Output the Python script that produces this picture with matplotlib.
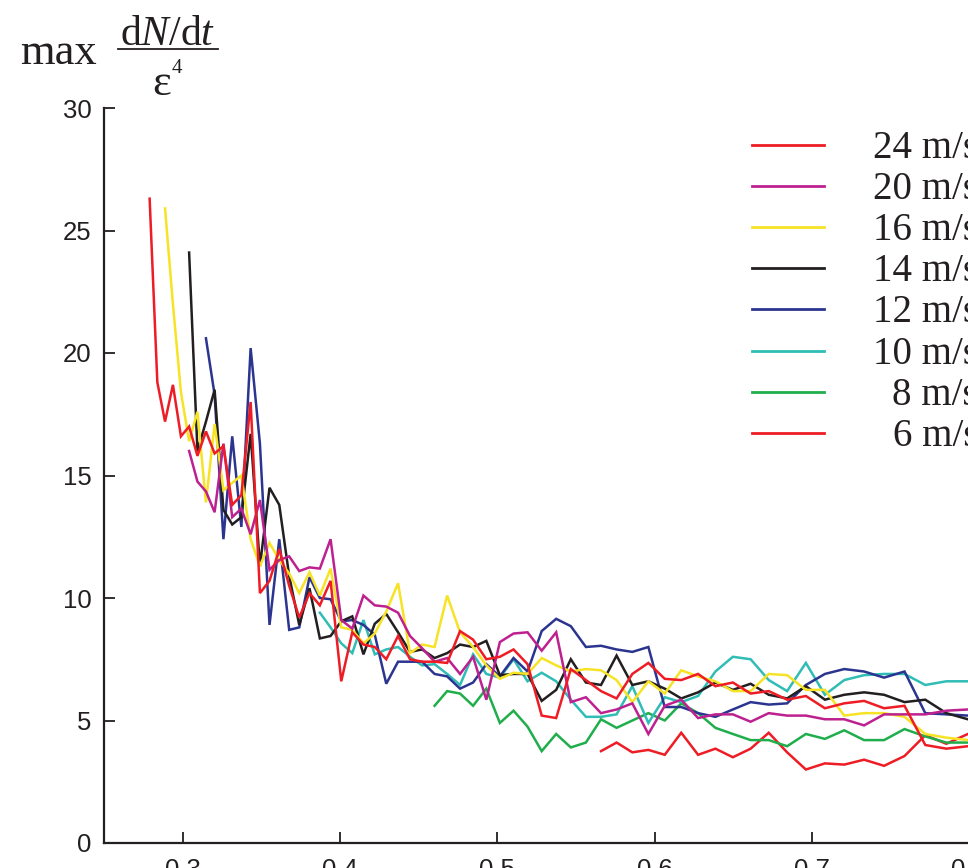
import matplotlib.pyplot as plt
from matplotlib.lines import Line2D

# x positions of the samples (shared by all runs)
x_grid = [0.2790, 0.2839, 0.2888, 0.2938, 0.2989, 0.3041, 0.3094, 0.3148, 0.3203, 0.3259,
          0.3315, 0.3373, 0.3432, 0.3491, 0.3552, 0.3614, 0.3677, 0.3741, 0.3806, 0.3872,
          0.3940, 0.4008, 0.4078, 0.4149, 0.4221, 0.4294, 0.4369, 0.4445, 0.4522, 0.4601,
          0.4681, 0.4763, 0.4846, 0.4930, 0.5016, 0.5103, 0.5192, 0.5282, 0.5374, 0.5467,
          0.5563, 0.5659, 0.5758, 0.5858, 0.5960, 0.6064, 0.6169, 0.6276, 0.6386, 0.6497,
          0.6610, 0.6725, 0.6842, 0.6961, 0.7082, 0.7205, 0.7331, 0.7458, 0.7588, 0.7720,
          0.7854, 0.7991]

# max dN/dt / eps^4 for each wind speed, and index into x_grid where each run starts
u24 = [26.3, 18.8, 17.2, 18.7, 16.6, 17.0, 15.8, 16.8, 15.9, 16.2,
       13.8, 14.2, 18.0, 10.2, 10.7, 12.0, 10.5, 9.2, 10.2, 9.7,
       10.7, 6.6, 8.6, 8.1, 8.0, 7.5, 8.45, 7.5, 7.4, 7.4,
       7.35, 8.65, 8.3, 7.5, 7.6, 7.9, 7.3, 5.2, 5.1, 7.1,
       6.65, 6.2, 5.9, 6.9, 7.35, 6.7, 6.65, 6.9, 6.4, 6.55,
       6.1, 6.2, 5.85, 6.0, 5.5, 5.7, 5.8, 5.5, 5.6, 4.0,
       3.85, 3.95]
u20 = [16.0, 14.75, 14.35, 13.5, 16.3, 13.3, 13.65, 12.6, 14.0, 11.15,
       11.55, 11.7, 11.1, 11.25, 11.2, 12.4, 9.1, 8.75, 10.1, 9.7,
       9.65, 9.4, 8.45, 7.95, 7.4, 7.55, 6.9, 7.6, 5.85, 8.2,
       8.55, 8.6, 7.85, 8.6, 5.75, 5.95, 5.3, 5.45, 5.7, 4.45,
       5.6, 5.85, 5.1, 5.25, 5.25, 4.95, 5.3, 5.2, 5.2, 5.05,
       5.05, 4.8, 5.25, 5.25, 5.25, 5.4, 5.45]
u16 = [25.9, 22.0, 18.4, 16.4, 17.6, 13.9, 17.1, 14.4, 14.7, 15.0,
       12.4, 11.3, 12.25, 11.55, 11.0, 10.2, 11.05, 10.1, 11.2, 8.8,
       8.7, 8.15, 8.55, 9.45, 10.6, 7.75, 8.1, 8.0, 10.1, 8.6,
       8.0, 7.25, 6.7, 6.95, 6.9, 7.55, 7.25, 7.0, 7.1, 7.05,
       6.65, 5.75, 6.6, 6.1, 7.05, 6.8, 6.6, 6.2, 6.2, 6.9,
       6.85, 6.25, 6.25, 5.2, 5.3, 5.3, 5.15, 4.45, 4.3, 4.2]
u14 = [24.1, 16.0, 17.2, 18.5, 13.6, 13.0, 13.3, 16.7, 11.3, 14.5,
       13.8, 10.9, 8.9, 10.4, 8.35, 8.45, 9.05, 9.25, 7.7, 8.95,
       9.35, 8.6, 7.8, 7.9, 7.55, 7.75, 8.1, 8.0, 8.25, 6.85,
       6.9, 6.9, 5.8, 6.25, 7.5, 6.55, 6.45, 7.65, 6.45, 6.6,
       6.3, 5.9, 6.15, 6.55, 6.25, 6.5, 6.05, 5.9, 6.4, 5.85,
       6.05, 6.15, 6.05, 5.75, 5.85, 5.3, 5.05]
u12 = [20.6, 18.3, 12.4, 16.6, 12.9, 20.2, 16.3, 8.9, 12.4, 8.7,
       8.8, 10.85, 10.0, 9.95, 9.05, 9.1, 8.9, 8.5, 6.5, 7.4,
       7.4, 7.4, 6.9, 6.8, 6.3, 6.55, 7.3, 6.8, 7.55, 7.0,
       8.65, 9.15, 8.85, 8.0, 8.05, 7.9, 7.8, 8.0, 5.55, 5.55,
       5.3, 5.15, 5.45, 5.75, 5.65, 5.7, 6.45, 6.9, 7.1, 7.0,
       6.75, 7.0, 5.3, 5.25, 5.2]
u10 = [9.4, 8.8, 8.15, 7.75, 9.1, 7.7, 7.9, 8.0, 7.6, 7.25,
       7.3, 6.9, 6.45, 7.7, 6.9, 6.75, 7.5, 6.6, 6.95, 6.6,
       5.85, 5.15, 5.15, 5.25, 6.4, 4.9, 5.95, 5.75, 6.0, 7.0,
       7.6, 7.5, 6.65, 6.2, 7.35, 6.05, 6.65, 6.85, 6.9, 6.9,
       6.45, 6.6, 6.6]
u8 = [5.6, 6.2, 6.1, 5.6, 6.3, 4.9, 5.4, 4.75, 3.75, 4.45,
      3.9, 4.1, 5.05, 4.7, 5.0, 5.3, 5.0, 5.7, 5.3, 4.7,
      4.45, 4.2, 4.2, 3.95, 4.45, 4.25, 4.6, 4.2, 4.2, 4.65,
      4.35, 4.1, 4.1]
u6 = [3.75, 4.1, 3.7, 3.8, 3.6, 4.5, 3.6, 3.85, 3.5, 3.85,
      4.5, 3.7, 3.0, 3.25, 3.2, 3.4, 3.15, 3.55, 4.4, 4.05,
      4.45]

labels = ["24 m/s", "20 m/s", "16 m/s", "14 m/s", "12 m/s", "10 m/s", "8 m/s", "6 m/s"]
series = [u24, u20, u16, u14, u12, u10, u8, u6]
starts = [0, 5, 2, 5, 7, 19, 29, 41]
colors = ["#ee1c25", "#bd2190", "#f7e325", "#231f20", "#2b3590", "#2fbdb5", "#1fae4b", "#ee1c25"]

xticks = [0.3, 0.4, 0.5, 0.6, 0.7, 0.8]
yticks = [0, 5, 10, 15, 20, 25, 30]

plt.rcParams["font.family"] = "Liberation Sans"
plt.rcParams["mathtext.fontset"] = "custom"
plt.rcParams["mathtext.rm"] = "Liberation Serif"
plt.rcParams["mathtext.it"] = "Liberation Serif:italic"

W, H = 968, 868


def fx(px):
    return px / W


def fy(py):
    return 1 - py / H


fig = plt.figure(figsize=(W / 100, H / 100), dpi=100)
# axes run past the right edge of the figure, like the cropped original
ax = fig.add_axes([fx(104), fy(843), 944 / W, 735 / H])

# draw smallest wind speed first so the 24 m/s run sits on top
for ys, s, c in reversed(list(zip(series, starts, colors))):
    ax.plot(x_grid[s:s + len(ys)], ys, color=c, lw=1.8, solid_joinstyle="miter")

ax.set_xlim(0.25, 0.85)
ax.set_ylim(0, 30)
ax.set_xticks(xticks)
ax.set_xticklabels([f"{v:.1f}" for v in xticks])
ax.set_yticks(yticks)
for side in ["top", "right"]:
    ax.spines[side].set_visible(False)
for side in ["left", "bottom"]:
    ax.spines[side].set_linewidth(1.6)
    ax.spines[side].set_color("#231f20")
ax.tick_params(direction="in", length=8, width=1.3, color="#231f20",
               labelsize=18.5, labelcolor="#231f20")
ax.tick_params(axis="y", pad=9)
ax.tick_params(axis="x", pad=11)

# legend by hand: right-aligned labels, cut by the figure edge
for i, (lab, c) in enumerate(zip(labels, colors)):
    y = 145 + 41.1 * i
    fig.add_artist(Line2D([fx(752), fx(824)], [fy(y), fy(y)], color=c, lw=2.0))
    fig.text(fx(978), fy(y + 13), lab, ha="right", va="baseline",
             family="Liberation Serif", fontsize=28, color="#231f20")

# y label: max dN/dt over eps^4
fig.text(fx(20), fy(64), "max", family="Liberation Serif", fontsize=32,
         va="baseline", color="#231f20")
fig.text(fx(168), fy(45), r"$\mathrm{d}N/\mathrm{d}t$", fontsize=30,
         ha="center", va="baseline", color="#231f20")
fig.add_artist(Line2D([fx(118), fx(218)], [fy(49), fy(49)], color="#231f20", lw=1.3))
fig.text(fx(152), fy(95), "\u03b5", family="Liberation Serif", fontsize=32,
         va="baseline", color="#231f20")
fig.text(fx(172), fy(73), "4", family="Liberation Serif", fontsize=15,
         va="baseline", color="#231f20")

fig.savefig("out.png", dpi=100)
